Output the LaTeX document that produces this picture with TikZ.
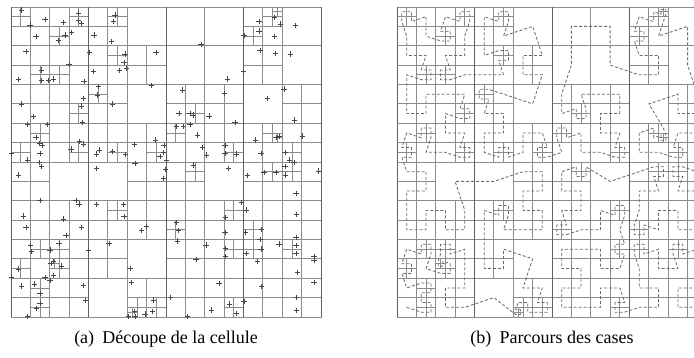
\documentclass[tikz,border=0pt]{standalone}
\usepackage{fontspec}
\setmainfont{Liberation Serif}
\newfontfamily\capfont{Liberation Serif}
\tikzset{
  cellline/.style={line width=0.8pt, draw=black!45},
  quadline/.style={line width=0.8pt, draw=black!62},
  hcurve/.style={line width=0.8pt, draw=black!58, dash pattern=on 3pt off 2pt},
  pmark/.style={line width=0.65pt, draw=black!72},
  captext/.style={font=\capfont\fontsize{18}{20}\selectfont, anchor=base, inner sep=0pt},
}
% quadtree description (units: panel = 128)
\def\qtL#1#2{\expandafter\def\csname lf@#1@#2\endcsname{}}
\def\qtS#1#2#3{\expandafter\def\csname sp@#1@#2@#3\endcsname{}}
% 8-level leaves (size 16)
\qtL{48}{0}\qtL{64}{0}\qtL{80}{0}\qtL{112}{0}
\qtL{64}{16}\qtL{80}{16}\qtL{112}{16}
\qtL{48}{32}\qtL{96}{32}
\qtL{16}{64}\qtL{32}{64}\qtL{80}{64}
\qtL{48}{96}\qtL{32}{112}
% 16-level splits (size 8)
\qtS{0}{0}{8}\qtS{24}{0}{8}\qtS{40}{0}{8}\qtS{16}{8}{8}\qtS{8}{24}{8}\qtS{16}{24}{8}
\qtS{40}{16}{8}\qtS{24}{40}{8}\qtS{32}{32}{8}\qtS{0}{56}{8}\qtS{8}{48}{8}\qtS{24}{56}{8}
\qtS{40}{56}{8}\qtS{56}{56}{8}
\qtS{104}{0}{8}\qtS{96}{8}{8}\qtS{72}{40}{8}\qtS{64}{48}{8}\qtS{88}{56}{8}\qtS{104}{48}{8}
\qtS{112}{56}{8}
\qtS{40}{80}{8}\qtS{8}{96}{8}\qtS{0}{104}{8}\qtS{16}{96}{8}\qtS{16}{104}{8}\qtS{8}{112}{8}
\qtS{8}{120}{8}\qtS{48}{120}{8}\qtS{56}{120}{8}
\qtS{72}{64}{8}\qtS{104}{64}{8}\qtS{112}{64}{8}\qtS{64}{88}{8}\qtS{88}{80}{8}\qtS{96}{88}{8}
\qtS{88}{96}{8}\qtS{96}{96}{8}\qtS{112}{96}{8}\qtS{88}{120}{8}
% 32-level splits (size 4)
\qtS{108}{0}{4}\qtS{108}{52}{4}\qtS{48}{124}{4}\qtS{16}{104}{4}
% Hilbert-order traversal of the quadtree
\def\qtvisit#1#2#3#4#5#6{%
  \edef\qtminx{\the\numexpr#1\ifnum#3<0 +(#3)\fi\ifnum#5<0 +(#5)\fi\relax}%
  \edef\qtminy{\the\numexpr#2\ifnum#4<0 +(#4)\fi\ifnum#6<0 +(#6)\fi\relax}%
  \edef\qtsize{\ifnum\numexpr#3+#4\relax<0 \the\numexpr0-(#3+#4)\relax\else\the\numexpr#3+#4\relax\fi}%
  \ifnum\qtsize>16 \let\qtnext\qtsplit
  \else\ifnum\qtsize=16
    \ifcsname lf@\qtminx @\qtminy\endcsname\let\qtnext\qtleaf\else\let\qtnext\qtsplit\fi
  \else
    \ifcsname sp@\qtminx @\qtminy @\qtsize\endcsname\let\qtnext\qtsplit\else\let\qtnext\qtleaf\fi
  \fi\fi
  \qtnext{#1}{#2}{#3}{#4}{#5}{#6}}
\def\qtleaf#1#2#3#4#5#6{%
  \draw[cellline] (\qtminx,\qtminy) rectangle ++(\qtsize,\qtsize);
  \xdef\qtpath{\qtpath (\the\numexpr2*\qtminx+\qtsize\relax,\the\numexpr2*\qtminy+\qtsize\relax)}}
\def\qtsplit#1#2#3#4#5#6{%
  \edef\qttmp{\noexpand\qtvisit{#1}{#2}{\the\numexpr(#5)/2\relax}{\the\numexpr(#6)/2\relax}{\the\numexpr(#3)/2\relax}{\the\numexpr(#4)/2\relax}}\qttmp
  \edef\qttmp{\noexpand\qtvisit{\the\numexpr#1+(#3)/2\relax}{\the\numexpr#2+(#4)/2\relax}{\the\numexpr(#3)/2\relax}{\the\numexpr(#4)/2\relax}{\the\numexpr(#5)/2\relax}{\the\numexpr(#6)/2\relax}}\qttmp
  \edef\qttmp{\noexpand\qtvisit{\the\numexpr#1+(#3)/2+(#5)/2\relax}{\the\numexpr#2+(#4)/2+(#6)/2\relax}{\the\numexpr(#3)/2\relax}{\the\numexpr(#4)/2\relax}{\the\numexpr(#5)/2\relax}{\the\numexpr(#6)/2\relax}}\qttmp
  \edef\qttmp{\noexpand\qtvisit{\the\numexpr#1+(#3)/2+(#5)\relax}{\the\numexpr#2+(#4)/2+(#6)\relax}{\the\numexpr(0-(#5))/2\relax}{\the\numexpr(0-(#6))/2\relax}{\the\numexpr(0-(#3))/2\relax}{\the\numexpr(0-(#4))/2\relax}}\qttmp}
\begin{document}
\begin{tikzpicture}[x=1pt,y=-1pt]
\useasboundingbox (0,0) rectangle (694,358);
\fill[white] (0,0) rectangle (694,358);
% (a) left panel
\begin{scope}[shift={(11,7)},x=2.421875pt,y=-2.421875pt]
  \gdef\qtpath{}
  \qtvisit{0}{128}{0}{-128}{128}{0}
  \draw[quadline] (0,0) grid[step=32] (128,128);
\end{scope}
\foreach \p in {(21.7,10),(30,25),(45,19.3),(63.3,22.7),(78.3,13.3),(78.3,20.7),(81.7,23.3),(115,15),(113.3,21.7),(36,36.7),(71.7,32.3),(65,35),(58.3,40.7),(94,35),(111.7,41.7),(26,51.7),(89.3,52.7),(125,54),(124,62.7),(126.7,68.3),(156,52.7),(69,64.3),(41.7,70),(41.7,80.7),(48.3,80.7),(53.3,79),(18.3,79.3),(93.3,71.7),(119.3,70.7),(84,81.7),(151.7,85.7),(98.3,86.7),(97.3,95),(83.3,98.3),(21.7,104),(81.7,106),(112.7,104),(33.3,116.7),(82.7,122.3),(27.3,124.3),(47.7,124.3),(36,137.7),(39.3,143.3),(42.7,145),(79.3,141.7),(83.3,144),(71,149),(40,153.3),(11.7,153.3),(99.3,150),(96.7,154),(112.7,151.7),(125.7,154.7),(134.3,144.3),(155.7,140),(164,145.7),(163.3,152.7),(160,156.7),(135,163.3),(166.7,160),(96.7,168.3),(41.7,166.7),(39.3,162.3),(27.7,160),
(274.3,17.3),(280.7,24),(259,21.7),(259,31),(295.7,25.7),(274.3,36.7),(244,35.7),(201,44.3),(260,50.7),(275.7,53.3),(290.3,54),(243.3,71.7),(227.7,79),(182.3,90),(224.3,93.3),(284,89),(267.3,98.3),(179,113.3),(190,113.3),(193.3,115),(209,116),(235,122.7),(294.3,120),(176.7,126.7),(183.3,126.7),(190,124.3),(197.7,135),(255.7,140),(276.7,137.3),(279,136.7),(302.3,136),(202.3,147.3),(225,145.7),(206.7,155),(225,153.3),(236.7,154),(261,153.3),(285,152.3),(289.3,160),(294,162.7),
(18.3,175),(163.3,178.3),(40,200.7),(76,200.7),(79,204),(96.7,204.3),(123.3,204.3),(124,216.7),(23.3,216),(63.3,219),(26,227.3),(81.7,227.3),(66,235.7),(146.7,226.7),(141.7,230.7),(30.7,245.7),(31.7,251.7),(50,250),(59,243.3),(88.3,250.7),(109,243.3),(18.3,269),(11.7,277.3),(51,263.3),(53.3,261.7),(61.7,266),(53.3,275.7),(45,277.7),(50,280.7),(21.7,286),(34.3,284),(40,293.3),(40,303.3),(36.7,308.3),(27.7,316.7),(83.3,285.7),(85.7,300.7),(130,268.3),(131.7,282.3),(128.3,316.7),(135,316.7),(134.3,311.7),(145,314),(153.3,300),(152.7,311.7),(165.7,169.3),
(193.3,165),(228.3,168.3),(247.3,175.7),(264,172.3),(276,172.3),(285.7,175),(285,166.7),(318.3,171),(296,193.3),(296.7,214.3),(241.7,202.3),(246,210),(225.7,217.7),(176.7,222.7),(178.3,230.7),(177.3,241),(225,232.3),(245.7,232.3),(261.7,229.3),(260,239.3),(261,249),(246,253.3),(225.7,248.3),(225.7,256.7),(206,245),(196,259.3),(257.3,261.7),(279,244),(296,237.3),(296,245.7),(296,253.3),(314,256.7),(314,260),(297.7,272.7),(314,282.3),(219,283.3),(261.7,286.7),(170.7,297.3),(296.7,297.3),(296.7,310.7),(244,301.7),(229.3,304),(211.7,310),(236.7,313.3),(187.7,316.7)}
  \draw[pmark] \p ++(-2.6,0) -- ++(5.2,0) \p ++(0,-2.6) -- ++(0,5.2);
% (b) right panel
\begin{scope}
  \clip (0,0) rectangle (694,358);
  \begin{scope}[shift={(397,7)},x=2.421875pt,y=-2.421875pt]
    \gdef\qtpath{}
    \qtvisit{0}{128}{0}{-128}{128}{0}
    \draw[quadline] (0,0) grid[step=32] (128,128);
  \end{scope}
  \begin{scope}[shift={(397,7)},x=1.2109375pt,y=-1.2109375pt]
    \edef\qttmp{\noexpand\draw[hcurve] plot coordinates {\qtpath};}\qttmp
  \end{scope}
\end{scope}
\node[captext] (capa) at (166,344) {(a)\hspace{0.45em}Découpe de la cellule};
\node[captext] (capb) at (552,344) {(b)\hspace{0.45em}Parcours des cases};
\end{tikzpicture}
\end{document}
